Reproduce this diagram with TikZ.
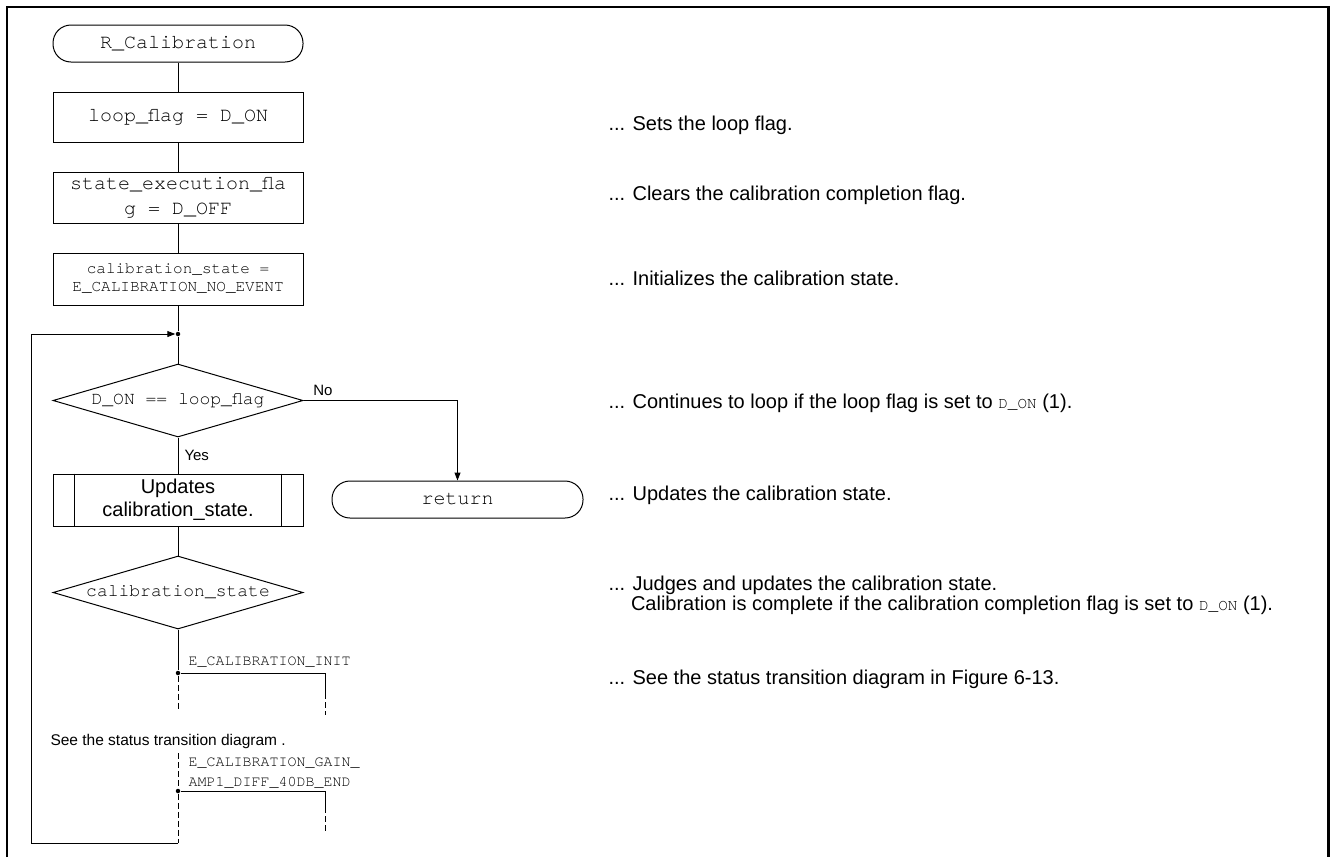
\documentclass[tikz,border=0pt]{standalone}
\usepackage{fontspec}
\setmainfont{Liberation Sans}
\setmonofont{TeX Gyre Cursor}
\usetikzlibrary{shapes.geometric,arrows.meta}

\newcommand{\cd}[1]{{\ttfamily\fontsize{16}{18}\selectfont #1}}

\begin{document}
\begin{tikzpicture}[x=1pt,y=-1pt,line width=1pt,
  box/.style={draw,rectangle,minimum width=250pt,inner sep=0pt,align=center},
  term/.style={draw,rectangle,rounded corners=18pt,minimum width=250pt,minimum height=37pt,
    font=\ttfamily\fontsize{20}{25}\selectfont},
  decision/.style={draw,diamond,aspect=3.4,inner sep=0pt,minimum width=250pt,minimum height=73pt,
    font=\ttfamily\fontsize{18}{22}\selectfont},
  dot/.style={circle,fill,inner sep=0pt,minimum size=4.5pt},
  note/.style={anchor=west,inner sep=0pt,font=\fontsize{20}{24}\selectfont},
  lbl/.style={anchor=west,inner sep=0pt,font=\ttfamily\fontsize{15}{20}\selectfont,align=left},
  tip/.style={-{Triangle[length=8pt,width=6pt]}}]
\useasboundingbox (0,0) rectangle (1330,857);
\draw[line width=2.5pt] (7,857) -- (7,7) -- (1328.5,7) -- (1328.5,857);

% main flow
\node[term] (start) at (178,43.5) {R\_Calibration};
\node[box,minimum height=50pt,font=\ttfamily\fontsize{20}{25}\selectfont] (setflag) at (178,117) {loop\_flag = D\_ON};
\node[box,minimum height=51pt,font=\ttfamily\fontsize{20}{25}\selectfont] (clrflag) at (178,197.5) {state\_execution\_fla\\g = D\_OFF};
\node[box,minimum height=52pt,font=\ttfamily\fontsize{16}{18}\selectfont] (initst) at (178,279) {calibration\_state =\\E\_CALIBRATION\_NO\_EVENT};
\node[dot] (j0) at (178,334) {};
\node[decision] (loopchk) at (178,400.5) {D\_ON == loop\_flag};
\node[box,minimum height=52pt,font=\fontsize{20}{23}\selectfont] (upd) at (178,500) {Updates\\calibration\_state.};
\draw ([xshift=22pt]upd.north west) -- ([xshift=22pt]upd.south west);
\draw ([xshift=-22pt]upd.north east) -- ([xshift=-22pt]upd.south east);
\node[term,minimum width=251pt] (ret) at (457.5,499.5) {return};
\node[decision] (stchk) at (178,592.5) {calibration\_state};

\draw (start) -- (setflag);
\draw (setflag) -- (clrflag);
\draw (clrflag) -- (initst);
\draw (initst) -- (j0);
\draw (j0) -- (loopchk);
\draw (loopchk) -- node[right=6pt,inner sep=0pt,font=\fontsize{15}{18}\selectfont] (yes) {Yes} (upd);
\draw[tip] (loopchk.east) -| (ret.north);
\node[font=\fontsize{15}{18}\selectfont,inner sep=0pt] (no) at (323,390) {No};
\draw (upd) -- (stchk);

% case branches
\node[dot] (j1) at (178,673) {};
\node[dot] (j2) at (178,791) {};
\coordinate (b1) at (325,693);
\coordinate (b1e) at (325,715);
\coordinate (d1e) at (178,710);
\coordinate (d2s) at (178,753);
\coordinate (b2) at (325,807);
\coordinate (b2e) at (325,833);
\coordinate (lb) at (178,843);
\coordinate (ll) at (31,843);
\coordinate (lt) at (31,334);
\draw (stchk.south) -- (j1);
\draw (j1) -| (b1);
\draw[dash pattern=on 6pt off 3pt] (b1) -- (b1e);
\draw[dash pattern=on 6pt off 3pt] (j1) -- (d1e);
\draw[dash pattern=on 6pt off 3pt] (d2s) -- (j2) -- (lb);
\draw (j2) -| (b2);
\draw[dash pattern=on 6pt off 3pt] (b2) -- (b2e);
\draw[tip] (lb) -- (ll) -- (lt) -- (j0);

\node[lbl] (case1) at (188,662) {E\_CALIBRATION\_INIT};
\node[lbl] (case2) at (188,773) {E\_CALIBRATION\_GAIN\_\\AMP1\_DIFF\_40DB\_END};
\node[anchor=west,inner sep=0pt,font=\fontsize{15.5}{18}\selectfont] (see) at (50,741) {See the status transition diagram .};

% comments
\foreach \nm/\ypos/\txt in {c1/125/{... Sets the loop flag.},
  c2/195/{... Clears the calibration completion flag.},
  c3/278/{... Initializes the calibration state.},
  c4/403/{... Continues to loop if the loop flag is set to \cd{D\_ON} (1).},
  c5/495/{... Updates the calibration state.},
  c6/585/{... Judges and updates the calibration state.},
  c8/679/{... See the status transition diagram in Figure 6-13.}}
  { \node[note] (\nm) at (608,\ypos) {\txt};}
\node[note] (c7) at (630.5,605) {Calibration is complete if the calibration completion flag is set to \cd{D\_ON} (1).};
\end{tikzpicture}
\end{document}
